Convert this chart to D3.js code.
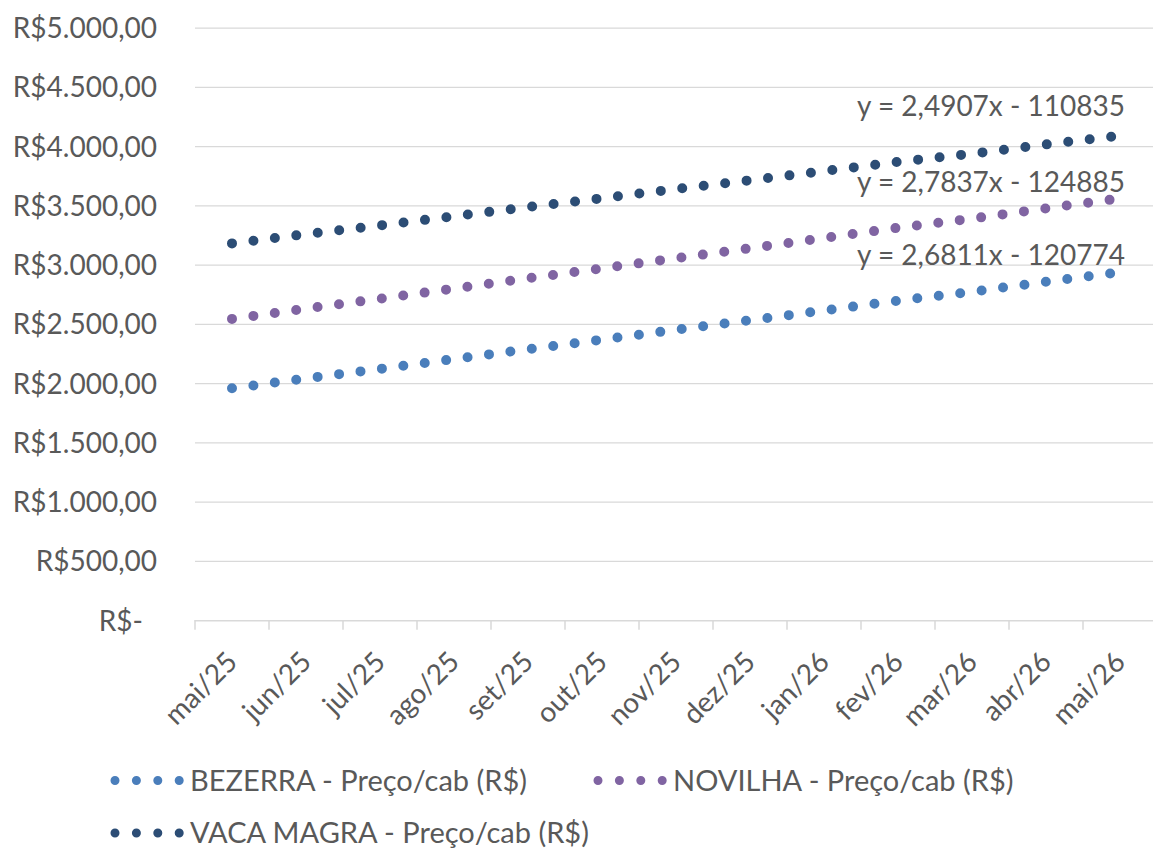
<!DOCTYPE html>
<html>
<head>
<meta charset="utf-8">
<script src="https://cdn.jsdelivr.net/npm/d3@7"></script>
<style>
  html, body { margin: 0; padding: 0; background: #ffffff; }
  svg { display: block; }
  text { font-family: Lato, "Open Sans", sans-serif; fill: #595959; }
</style>
</head>
<body>
<svg id="chart" width="1153" height="851"></svg>
<script>
// ---- data ----
const months = ["mai/25","jun/25","jul/25","ago/25","set/25","out/25","nov/25","dez/25","jan/26","fev/26","mar/26","abr/26","mai/26"];
const bezerra  = [1961, 2045, 2125, 2208, 2291, 2372, 2455, 2535, 2618, 2701, 2776, 2860, 2940];
const novilha  = [2547, 2634, 2717, 2803, 2890, 2973, 3059, 3143, 3229, 3316, 3393, 3480, 3563];
const vacaMagra = [3184, 3262, 3336, 3413, 3491, 3565, 3643, 3717, 3794, 3872, 3941, 4019, 4093];
const seriesNames = ["BEZERRA - Preço/cab (R$)", "NOVILHA - Preço/cab (R$)", "VACA MAGRA - Preço/cab (R$)"];
const yTicks = [0, 500, 1000, 1500, 2000, 2500, 3000, 3500, 4000, 4500, 5000];
const trendLabels = ["y = 2,6811x - 120774", "y = 2,7837x - 124885", "y = 2,4907x - 110835"];
const trendLabelValues = [3002, 3620, 4259]; // baseline position in value units, at last month

// ---- style ----
const colors = ["#4a7ebb", "#8064a2", "#2c4d75"];
const gridColor = "#d9d9d9";
const fontSize = 28;

const svg = d3.select("#chart");
const plot = { left: 195, right: 1157, top: 28.2, bottom: 620.7 };

const x = d3.scaleBand().domain(months).range([plot.left, plot.right]).padding(0);
const y = d3.scaleLinear().domain([0, 5000]).range([plot.bottom, plot.top]);

const locale = d3.formatLocale({ decimal: ",", thousands: ".", grouping: [3], currency: ["R$", ""] });
const fmt = locale.format("$,.2f");
const yFmt = v => v === 0 ? "R$-" : fmt(v);

// gridlines
svg.append("g").selectAll("line").data(yTicks.filter(v => v > 0)).join("line")
  .attr("x1", plot.left).attr("x2", plot.right)
  .attr("y1", d => y(d)).attr("y2", d => y(d))
  .attr("stroke", gridColor).attr("stroke-width", 1.3);

// y labels
svg.append("g").selectAll("text").data(yTicks).join("text")
  .attr("x", d => d === 0 ? 143 : 157)
  .attr("y", d => y(d))
  .attr("dy", "0.35em")
  .attr("text-anchor", "end")
  .attr("font-size", fontSize)
  .text(yFmt);

// x axis
const xAxis = d3.axisBottom(x).tickSize(9).tickFormat("");
const gx = svg.append("g").attr("transform", `translate(0,${plot.bottom})`).call(xAxis);
gx.select(".domain").attr("stroke", gridColor).attr("stroke-width", 1.5).attr("d", `M${plot.left},0.5V0H${plot.right}`);
gx.selectAll(".tick").remove();
const boundaries = months.map(m => x(m)).concat([plot.right]);
gx.selectAll("line.bt").data(boundaries).join("line").attr("class", "bt")
  .attr("x1", d => d).attr("x2", d => d).attr("y1", 0).attr("y2", 9)
  .attr("stroke", gridColor).attr("stroke-width", 1.5);

// x labels
svg.append("g").selectAll("text").data(months).join("text")
  .attr("transform", d => `translate(${x(d) + x.bandwidth() / 2},${plot.bottom + 36}) rotate(-45)`)
  .attr("text-anchor", "end")
  .attr("dy", "0.35em")
  .attr("font-size", fontSize)
  .text(d => d);

// series
const allSeries = [bezerra, novilha, vacaMagra];
const line = d3.line().x((d, i) => x(months[i]) + x.bandwidth() / 2).y(d => y(d));
svg.append("g").selectAll("path").data(allSeries).join("path")
  .attr("d", d => line(d))
  .attr("fill", "none")
  .attr("stroke", (d, i) => colors[i])
  .attr("stroke-width", 10)
  .attr("stroke-linecap", "round")
  .attr("stroke-dasharray", "0 21.6");

// trend labels
const lastMonth = months[months.length - 1];
svg.append("g").selectAll("text").data(trendLabels).join("text")
  .attr("x", x(lastMonth) + x.bandwidth() / 2 + 5)
  .attr("y", (d, i) => y(trendLabelValues[i]))
  .attr("text-anchor", "end")
  .attr("font-size", fontSize)
  .text(d => d);

// legend
const legendItems = [
  { i: 0, x: 115, y: 780.5 },
  { i: 1, x: 598, y: 780.5 },
  { i: 2, x: 115, y: 833 }
];
const lg = svg.append("g").selectAll("g").data(legendItems).join("g")
  .attr("transform", d => `translate(${d.x},${d.y})`);
lg.append("line")
  .attr("x1", 0).attr("x2", 65).attr("y1", 0).attr("y2", 0)
  .attr("stroke", d => colors[d.i]).attr("stroke-width", 9)
  .attr("stroke-linecap", "round").attr("stroke-dasharray", "0 21.4");
lg.append("text")
  .attr("x", 75).attr("dy", "0.35em")
  .attr("font-size", 29)
  .text(d => seriesNames[d.i]);
</script>
</body>
</html>
